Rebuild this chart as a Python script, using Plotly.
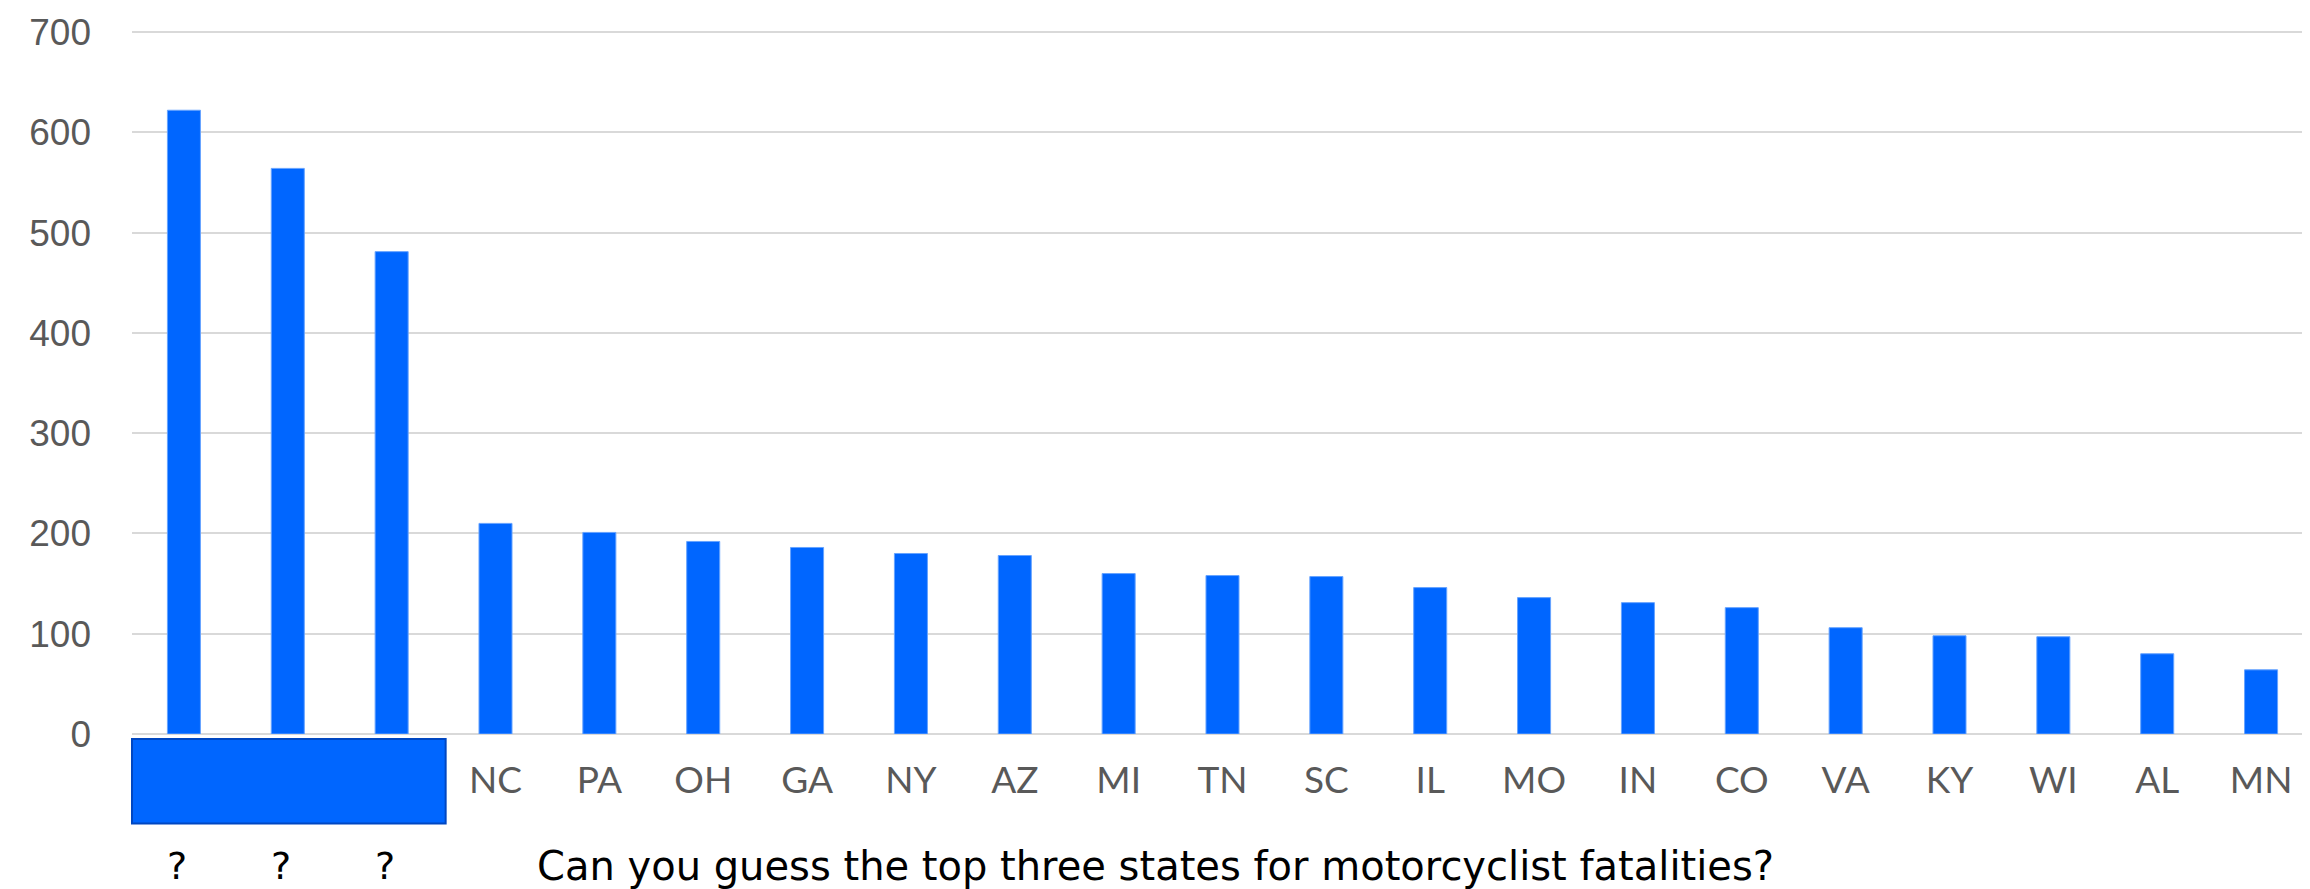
import plotly.graph_objects as go

# Data (top three states hidden as "?")
labels = ["?", "?", "?", "NC", "PA", "OH", "GA", "NY", "AZ", "MI", "TN", "SC",
          "IL", "MO", "IN", "CO", "VA", "KY", "WI", "AL", "MN"]
values = [622, 564, 481, 210, 201, 192, 186, 180, 178, 160, 158, 157,
          146, 136, 131, 126, 106, 98, 97, 80, 64]
hidden_count = 3
caption = "Can you guess the top three states for motorcyclist fatalities?"
y_ticks = [0, 100, 200, 300, 400, 500, 600, 700]

n = len(labels)
x = list(range(n))
tick_text = ["" if i < hidden_count else lab for i, lab in enumerate(labels)]

BLUE = "#0066ff"
GRAY = "#595959"
CAP_FONT = "DejaVu Sans"
LAB_FONT = "Lato"

# pixel layout
W, H = 2310, 889
plot_left, plot_right = 124, 2305
y_top_val = 705
px_per_unit = 1.003
zero_px = 726
top_px = zero_px - y_top_val * px_per_unit
plot_h = zero_px - top_px


def py(pix):  # pixel row -> paper y
    return (zero_px - pix) / plot_h


fig = go.Figure()
fig.add_trace(go.Bar(
    x=x, y=values,
    marker=dict(color=BLUE, line=dict(color="#66a3ff", width=1)),
    hoverinfo="x+y",
))

# blue box hiding the top three labels
fig.add_shape(type="rect", xref="paper", yref="paper",
              x0=0, x1=(hidden_count + 0.02) / n,
              y0=py(731), y1=py(815.5),
              fillcolor=BLUE, line=dict(color="#0047c2", width=2), layer="above")

for i in range(hidden_count):
    fig.add_annotation(x=x[i], y=py(858), xref="x", yref="paper", text=labels[i],
                       showarrow=False, xshift=-7, yanchor="middle",
                       font=dict(family=CAP_FONT, size=38, color="#000000"))

cap_center_px = (518 + 1777) / 2
fig.add_annotation(x=(cap_center_px - plot_left) / (plot_right - plot_left), y=py(858),
                   xref="paper", yref="paper", text=caption,
                   showarrow=False, xanchor="center", yanchor="middle",
                   font=dict(family=CAP_FONT, size=40, color="#000000"))

fig.update_layout(
    width=W, height=H,
    margin=dict(l=plot_left, r=W - plot_right, t=top_px, b=H - zero_px, autoexpand=False),
    paper_bgcolor="white", plot_bgcolor="white",
    bargap=0.682,
    showlegend=False,
    xaxis=dict(
        tickmode="array", tickvals=x, ticktext=tick_text,
        range=[-0.5, n - 0.5], automargin=False,
        showgrid=False, zeroline=False, showline=False, ticks="",
        tickfont=dict(family=LAB_FONT, size=37, color=GRAY),
        ticklabelstandoff=21,
    ),
    yaxis=dict(
        range=[0, y_top_val], tickvals=y_ticks, automargin=False,
        showgrid=True, gridcolor="#d9d9d9", gridwidth=2,
        zeroline=True, zerolinecolor="#d9d9d9", zerolinewidth=2,
        showline=False, ticks="",
        tickfont=dict(family="Liberation Sans", size=37, color=GRAY),
        ticklabelstandoff=40,
    ),
)

fig.write_html("out.html")
